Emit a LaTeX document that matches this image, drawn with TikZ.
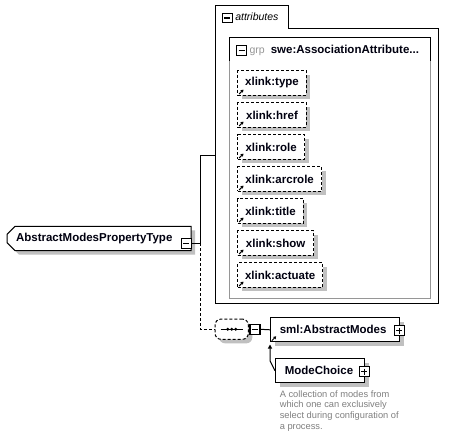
\documentclass[tikz,border=0pt]{standalone}
\usepackage{fontspec}
\setmainfont{Liberation Sans}
\usetikzlibrary{shapes.misc,shadows,arrows.meta}
\definecolor{shade}{RGB}{192,192,192}
\definecolor{desc}{RGB}{128,128,128}
\definecolor{grpgray}{RGB}{150,150,150}
\definecolor{ink}{RGB}{0,0,16}
\tikzset{
  shd/.style={general shadow={fill=shade, shadow xshift=4pt, shadow yshift=-4pt}},
  lbl/.style={font=\bfseries\fontsize{11.5}{13}\selectfont, text=ink},
  dsh/.style={dash pattern=on 3pt off 2pt},
  attrbox/.style={draw, dsh, fill=white, shd, lbl, minimum height=24.3pt, anchor=north west, inner sep=0pt},
  elembox/.style={draw, fill=white, shd, lbl, minimum height=24pt, inner xsep=9.3pt, inner ysep=0pt, align=left, anchor=north west},
  minusbox/.style={draw, fill=white, minimum size=10pt, inner sep=0pt, line width=1.4pt,
    path picture={\draw[line width=1.3pt] ([xshift=2pt]path picture bounding box.west) -- ([xshift=-2pt]path picture bounding box.east);}},
  plusbox/.style={minusbox,
    path picture={\draw[line width=1.3pt] ([xshift=2pt]path picture bounding box.west) -- ([xshift=-2pt]path picture bounding box.east);
                  \draw[line width=1.3pt] ([yshift=-2pt]path picture bounding box.north) -- ([yshift=2pt]path picture bounding box.south);}},
  conn/.style={line width=1pt},
}
\newcommand\linkicon[1]{\draw[line width=1pt, -{Triangle[length=2.6pt,width=3.2pt]}] ([shift={(1.8pt,1.6pt)}]#1.south west) -- ++(4.4pt,4.4pt);}
\begin{document}
\begin{tikzpicture}[x=1pt,y=-1pt, line width=1pt]
\useasboundingbox[fill=white] (0,0) rectangle (449,438);

% attributes container
\draw (215.3,5.3) -- (288.3,5.3) -- (288.3,28.3) -- (438.3,28.3) -- (438.3,303.3) -- (215.3,303.3) -- cycle;
\node[minusbox, minimum width=10pt, minimum height=9.5pt] (attrminus) at (227.2,18) {};
\node[anchor=base west, font=\itshape\fontsize{10.5}{12}\selectfont, inner sep=0pt] (attrlbl) at (234.8,21) {attributes};
\coordinate (attrL) at (215.3,155.3);

% group box
\draw[grpgray] (229.3,60.7) -- (229.3,298.3) -- (430.7,298.3) -- (430.7,60.7);
\draw (229.3,60.7) -- (229.3,37.3) -- (430.7,37.3) -- (430.7,60.7);
\node[minusbox] (grpminus) at (241.5,50.5) {};
\node[anchor=base west, font=\fontsize{10.5}{12}\selectfont, text=grpgray, inner sep=0pt] (grplbl) at (249,54) {grp};
\node[anchor=base west, lbl, inner sep=0pt] (grpname) at (270.3,54) {swe:AssociationAttribute...};

% attributes
\node[attrbox, minimum width=68.4pt] (a1) at (237.3,70.3) {xlink:type};
\node[attrbox, minimum width=68.4pt] (a2) at (237.3,102.3) {xlink:href};
\node[attrbox, minimum width=66.7pt] (a3) at (237.3,134.3) {xlink:role};
\node[attrbox, minimum width=83.7pt] (a4) at (237.3,166.3) {xlink:arcrole};
\node[attrbox, minimum width=65.4pt] (a5) at (237.3,198.3) {xlink:title};
\node[attrbox, minimum width=75.7pt] (a6) at (237.3,230.3) {xlink:show};
\node[attrbox, minimum width=84.7pt] (a7) at (237.3,262.3) {xlink:actuate};
\foreach \n in {a1,a2,a3,a4,a5,a6,a7}{\linkicon{\n}}

% main type
\node[chamfered rectangle, chamfered rectangle corners={north west,south west},
      chamfered rectangle xsep=4pt, chamfered rectangle ysep=4pt,
      draw, fill=white, shd, lbl, minimum height=24.3pt, text width=166pt, align=left,
      inner xsep=5pt, inner ysep=0pt, anchor=north west] (main) at (10.7,230) {AbstractModesPropertyType};
\node[minusbox] (mainminus) at (186.3,243.3) {};

% sequence
\node[draw, dsh, fill=white, shd, rounded corners=6pt, minimum width=33.3pt, minimum height=20.3pt, inner sep=0pt] (seq) at (231.7,329.2) {};
\draw[line width=1.2pt] ([xshift=-11pt]seq.center) -- ([xshift=11pt]seq.center);
\foreach \dx in {-4,0,4}{\fill ([xshift=\dx pt]seq.center) circle (1.6pt);}
\node[minusbox] (seqminus) at (255,329.3) {};

% sml:AbstractModes
\node[elembox, text width=110.7pt] (sml) at (270,317.3) {sml:AbstractModes};
\node[plusbox] (smlplus) at (399.3,330.7) {};
\linkicon{sml}

% ModeChoice
\node[elembox, text width=70.7pt] (mc) at (275,358.3) {ModeChoice};
\node[plusbox] (mcplus) at (364.3,371.7) {};

\node[anchor=north west, align=left, inner sep=0pt, text=desc,
      font=\fontsize{9.3}{10.7}\selectfont] (desc) at (279.3,390) {A collection of modes from\\which one can exclusively\\select during configuration of\\a process.};

% connectors
\coordinate (fork) at (200,243.3);
\draw[conn] (mainminus.east) -- (fork) |- (attrL);
\draw[conn, dsh] (fork) |- (seq.west);
\draw[conn] (seq.east) -- (seqminus.west);
\draw[conn] (seqminus.east) -- (sml.west);
\coordinate (subtip) at (270,344.5);
\draw[conn, -{Triangle[length=4pt,width=4pt]}] (mc.west) -- ++(-5,-10) -- (subtip);
\end{tikzpicture}
\end{document}
